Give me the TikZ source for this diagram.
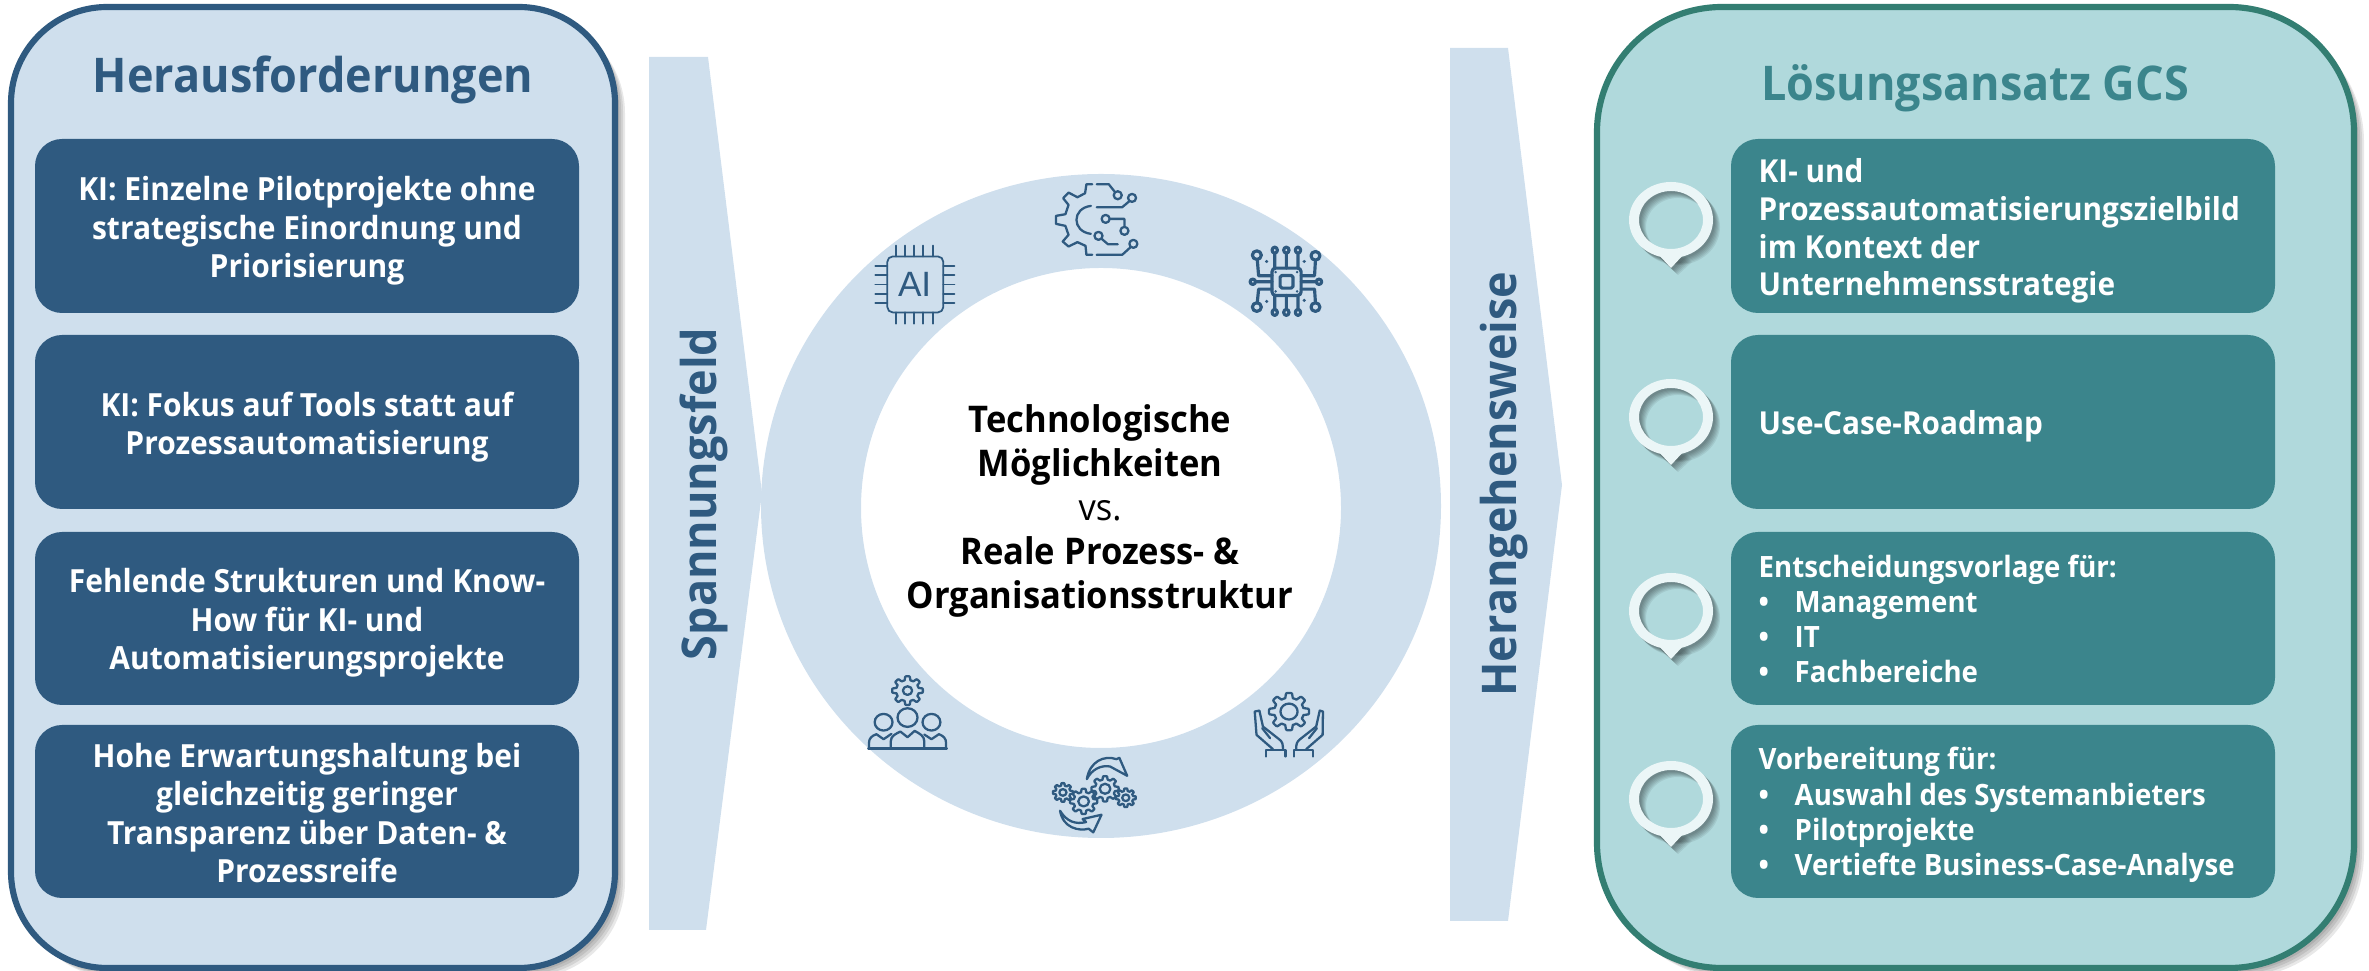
\documentclass[tikz,border=0pt]{standalone}
\usepackage{fontspec}
\setmainfont{Open Sans}[FakeStretch=0.94]
\newfontfamily\iconfont{Liberation Sans}
\definecolor{navy}{HTML}{2F5A80}
\definecolor{paleblue}{HTML}{CFDFED}
\definecolor{paleteal}{HTML}{B0D9DC}
\definecolor{tealbox}{HTML}{3B858C}
\definecolor{tealedge}{HTML}{337E72}
\definecolor{bubblewhite}{HTML}{EBF6F7}
\tikzset{
  panelA/.style={draw=navy,line width=1.75pt,fill=paleblue,rounded corners=0.96cm},
  panelB/.style={draw=tealedge,line width=1.75pt,fill=paleteal,rounded corners=1.25cm},
  boxA/.style={fill=navy,rounded corners=0.27cm},
  boxB/.style={fill=tealbox,rounded corners=0.27cm},
  lefttext/.style={text=white,font=\bfseries\fontsize{9.07}{10.9}\selectfont,align=center,inner sep=0},
  righttext/.style={text=white,font=\bfseries\fontsize{9.0}{10.75}\selectfont,align=left,anchor=west,inner sep=0},
  listtext/.style={text=white,font=\bfseries\fontsize{8.35}{10.0}\selectfont,align=left,anchor=west,inner sep=0},
  headtext/.style={font=\bfseries\fontsize{13.6}{16}\selectfont,inner sep=0},
  iconline/.style={draw=navy,line width=0.65pt,line cap=round,line join=round},
  chipline/.style={iconline,line width=0.9pt},
  thinline/.style={iconline,line width=0.5pt},
  iconscopeup/.style={x=0.004464cm,y=-0.003333cm},
  iconscopedown/.style={x=0.003571cm,y=-0.003333cm},
}
\newcommand{\cogwheel}[5]{%
  \draw[iconline] plot[domain=0:360,samples=121] ({#1+#3*(.87+.13*max(-1,min(1,2.5*cos(#5*\x))))*cos(\x)},{#2+#3*(.87+.13*max(-1,min(1,2.5*cos(#5*\x))))*sin(\x)});
  \draw[iconline] (#1,#2) circle [radius=#4];}
\newcommand{\pinbubble}[2]{%
  \foreach \o in {2,3,4,5,6,7}{%
    \fill[black,opacity=.07,even odd rule] (#1+\o,#2+\o) ellipse [x radius=42,y radius=38] (#1+\o,#2+\o) ellipse [x radius=32,y radius=29];
    \fill[black,opacity=.07] (#1-14+\o,#2+35+\o) -- (#1+\o,#2+48+\o) -- (#1+14+\o,#2+35+\o) -- cycle;}
  \fill[bubblewhite,even odd rule] (#1,#2) ellipse [x radius=42,y radius=38] (#1,#2) ellipse [x radius=32,y radius=29];
  \fill[bubblewhite] (#1-14,#2+33) -- (#1,#2+48) -- (#1+14,#2+33) -- cycle;}
\begin{document}
\begin{tikzpicture}[x=0.01cm,y=-0.01cm]
\useasboundingbox (0,0) rectangle (2369,971);
\clip (0,0) rectangle (2369,971);
% panels with shadows
\foreach \o in {2,4,6,8,10}{\fill[black,opacity=.09,rounded corners=0.96cm] (11+\o,7+\o) rectangle (615+\o,968+\o);}
\draw[panelA] (11,7) rectangle (615,968);
\foreach \o in {2,4,6,8,10}{\fill[black,opacity=.09,rounded corners=1.25cm] (1597+\o,7+\o) rectangle (2354+\o,968+\o);}
\draw[panelB] (1597,7) rectangle (2354,968);
% left boxes
\fill[boxA] (35,139) rectangle (579,313);
\fill[boxA] (35,335) rectangle (579,509);
\fill[boxA] (35,532) rectangle (579,705);
\fill[boxA] (35,725) rectangle (579,898);
\node[headtext,text=navy] (headA) at (313,80) {Herausforderungen};
\node[lefttext] (a1) at (307,231) {KI: Einzelne Pilotprojekte ohne\\strategische Einordnung und\\Priorisierung};
\node[lefttext] (a2) at (307,427) {KI: Fokus auf Tools statt auf\\Prozessautomatisierung};
\node[lefttext] (a3) at (307,623) {Fehlende Strukturen und Know-\\How für KI- und\\Automatisierungsprojekte};
\node[lefttext] (a4) at (307,813) {Hohe Erwartungshaltung bei\\gleichzeitig geringer\\Transparenz über Daten- \&\\Prozessreife};
% arrows
\fill[paleblue] (649,57) -- (708,57) -- (762,493) -- (706,930) -- (649,930) -- cycle;
\fill[paleblue] (1450,48) -- (1508,48) -- (1562,485) -- (1508,921) -- (1450,921) -- cycle;
\node[headtext,text=navy,rotate=90,anchor=base] (sp) at (716,494) {Spannungsfeld};
\node[headtext,text=navy,rotate=90,anchor=base] (he) at (1516,484) {Herangehensweise};
% ring
\fill[paleblue,even odd rule] (1101,506) ellipse [x radius=340,y radius=332] (1101,508) ellipse [x radius=240,y radius=240];
\node[font=\bfseries\fontsize{10.45}{12.5}\selectfont,align=center,inner sep=0,text=black] (mid) at (1100,511) {Technologische\\Möglichkeiten\\{\normalfont vs.}\\Reale Prozess- \&\\Organisationsstruktur};
% right boxes
\fill[boxB] (1731,139) rectangle (2275,313);
\fill[boxB] (1731,335) rectangle (2275,509);
\fill[boxB] (1731,532) rectangle (2275,705);
\fill[boxB] (1731,725) rectangle (2275,898);
\node[headtext,text=tealbox] (headB) at (1975,88) {Lösungsansatz GCS};
\node[righttext] (b1) at (1758,231) {KI- und\\Prozessautomatisierungszielbild\\im Kontext der\\Unternehmensstrategie};
\node[righttext] (b2) at (1758,426) {Use-Case-Roadmap};
\node[listtext] (b3) at (1758,619) {Entscheidungsvorlage für:\\\makebox[10.24pt][l]{•}Management\\\makebox[10.24pt][l]{•}IT\\\makebox[10.24pt][l]{•}Fachbereiche};
\node[listtext] (b4) at (1758,815) {Vorbereitung für:\\\makebox[10.24pt][l]{•}Auswahl des Systemanbieters\\\makebox[10.24pt][l]{•}Pilotprojekte\\\makebox[10.24pt][l]{•}Vertiefte Business-Case-Analyse};
\pinbubble{1671}{220}
\pinbubble{1671}{417}
\pinbubble{1671}{611}
\pinbubble{1671}{799}
% icons upper
\begin{scope}[shift={(780,150)},iconscopeup]
  % AI chip
  \draw[thinline,rounded corners=1.5pt] (240,320) rectangle (365,488);
  \foreach \p in {260,280,300,320,342}{\draw[thinline] (\p,287) -- (\p,320) (\p,488) -- (\p,522);}
  \foreach \p in {348,376,404,432,460}{\draw[thinline] (213,\p) -- (240,\p) (365,\p) -- (390,\p);}
  \node[text=navy,font=\iconfont\fontsize{10}{10}\selectfont,inner sep=0] (ai) at (301,404) {AI};
  % gear with circuits
  \draw[iconline] (698,103) -- (685,103) -- (682,130) -- (665,142) -- (645,128) -- (633,145) -- (645,165) -- (638,193) -- (617,198) -- (617,222) -- (638,228) -- (645,255) -- (632,275) -- (645,290) -- (665,277) -- (683,288) -- (685,315) -- (698,315);
  \draw[iconline] (708,103) -- (735,103) -- (748,125) (755,136) circle [x radius=9,y radius=12];
  \draw[iconline] (708,172) -- (765,172) -- (780,155) (787,144) circle [x radius=9,y radius=12];
  \draw[iconline] (695,168) .. controls (652,175) and (652,245) .. (695,252);
  \draw[iconline] (728,207) circle [x radius=9,y radius=12] (738,207) -- (770,207) -- (770,231) (770,243) circle [x radius=9,y radius=12];
  \draw[iconline] (712,258) circle [x radius=9,y radius=12] (720,268) -- (733,283) -- (755,283);
  \draw[iconline] (708,315) -- (765,315) -- (783,293) (790,282) circle [x radius=9,y radius=12];
  % circuit chip
  \draw[chipline,rounded corners=1pt] (1100,355) rectangle (1165,437);
  \draw[chipline,rounded corners=0.5pt] (1118,377) rectangle (1147,415);
  \foreach \p in {1106,1132,1158}{\draw[chipline] (\p,355) -- (\p,311) (\p,437) -- (\p,479) (\p,301) circle [x radius=6,y radius=9] (\p,488) circle [x radius=6,y radius=9];}
  \draw[chipline] (1100,378) -- (1070,378) -- (1067,330) (1066,316) circle [x radius=10,y radius=13];
  \draw[chipline] (1165,378) -- (1195,378) -- (1197,332) (1197,318) circle [x radius=10,y radius=13];
  \draw[chipline] (1100,418) -- (1070,418) -- (1067,458) (1066,472) circle [x radius=10,y radius=13];
  \draw[chipline] (1165,418) -- (1195,418) -- (1197,458) (1197,472) circle [x radius=10,y radius=13];
  \draw[chipline] (1100,396) -- (1064,396) (1057,396) circle [x radius=6,y radius=8];
  \draw[chipline] (1165,396) -- (1198,396) (1205,396) circle [x radius=6,y radius=8];
  \foreach \a/\b in {1088/335,1172/335,1088/455,1172/452}{\fill[navy] (\a,\b) circle [x radius=4,y radius=5];}
  \foreach \a/\b in {1108/367,1156/367,1108/425,1156/425}{\fill[navy] (\a,\b) circle [x radius=3,y radius=4];}
\end{scope}
% icons lower
\begin{scope}[shift={(820,660)},iconscopedown]
  % team with cog
  \cogwheel{245}{92}{43}{13}{8}
  \draw[iconline] (245,173) circle [radius=28] (178,187) circle [radius=25] (312,187) circle [radius=25];
  \draw[iconline] (135,266) -- (355,266);
  \draw[iconline] (198,266) -- (198,245) .. controls (198,228) and (212,222) .. (225,215) -- (245,232) -- (265,213) .. controls (280,222) and (292,228) .. (292,245) -- (292,266);
  \draw[iconline] (137,266) -- (137,250) .. controls (137,235) and (145,228) .. (158,223) -- (178,238) -- (200,222);
  \draw[iconline] (292,224) -- (312,238) -- (333,223) .. controls (345,228) and (353,235) .. (353,250) -- (353,266);
  % hands with cog
  \cogwheel{1313}{155}{56}{24}{8}
  \draw[iconline] (1248,290) -- (1248,270) -- (1303,270) -- (1303,290);
  \draw[iconline] (1326,290) -- (1326,270) -- (1381,270) -- (1381,290);
  \draw[iconline] (1268,268) -- (1222,225) -- (1217,155) -- (1230,152) -- (1240,200) -- (1285,238) .. controls (1295,245) and (1296,255) .. (1296,268);
  \draw[iconline] (1238,205) -- (1260,235);
  \draw[iconline] (1361,268) -- (1407,225) -- (1408,155) -- (1399,152) -- (1389,200) -- (1344,238) .. controls (1334,245) and (1333,255) .. (1333,268);
  \draw[iconline] (1391,205) -- (1369,235);
  % cogs with arrows
  \cogwheel{680}{398}{28}{10}{8}
  \cogwheel{738}{425}{38}{15}{8}
  \cogwheel{798}{387}{38}{15}{8}
  \cogwheel{856}{414}{28}{10}{8}
  \draw[iconline] (747,358) .. controls (755,305) and (795,285) .. (830,298) -- (838,294) -- (860,348) -- (812,320) .. controls (785,315) and (760,330) .. (747,358) -- cycle;
  \draw[iconline] (672,453) .. controls (680,505) and (725,515) .. (752,507) -- (765,518) -- (788,465) -- (735,478) -- (745,487) .. controls (715,495) and (690,485) .. (672,453) -- cycle;
\end{scope}
\end{tikzpicture}
\end{document}
